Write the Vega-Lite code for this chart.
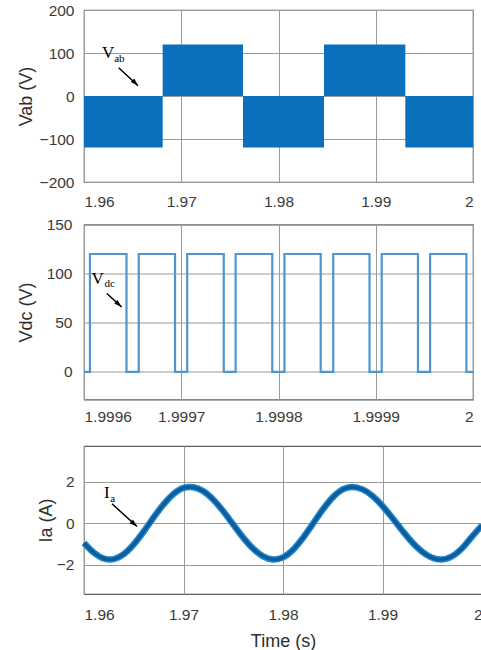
{
  "$schema": "https://vega.github.io/schema/vega-lite/v6.json",
  "background": "white",
  "padding": {"left": 16, "top": 2, "right": 0, "bottom": 0},
  "autosize": {"type": "pad"},
  "config": {
    "font": "Liberation Sans",
    "view": {"stroke": "#5e5e5e", "strokeWidth": 1.2},
    "axis": {
      "labelFont": "Liberation Sans", "titleFont": "Liberation Sans",
      "labelFontSize": 15.5, "titleFontSize": 18,
      "labelColor": "#3a3a3a", "titleColor": "#2e2e2e", "titleFontWeight": "normal",
      "ticks": false, "domain": false,
      "gridColor": "#9a9a9a", "gridOpacity": 1, "gridWidth": 1,
      "labelPadding": 10
    }
  },
  "datasets": {
    "vab": [
      {"t": 1.96, "t2": 1.96809, "v": -120},
      {"t": 1.96809, "t2": 1.97635, "v": 120},
      {"t": 1.97635, "t2": 1.98468, "v": -120},
      {"t": 1.98468, "t2": 1.99304, "v": 120},
      {"t": 1.99304, "t2": 2.0, "v": -120}
    ],
    "vdc": [
      {"t": 1.9996, "v": 0},
      {"t": 1.9996061, "v": 120}, {"t": 1.9996437, "v": 0},
      {"t": 1.9996563, "v": 120}, {"t": 1.9996936, "v": 0},
      {"t": 1.9997061, "v": 120}, {"t": 1.9997437, "v": 0},
      {"t": 1.9997559, "v": 120}, {"t": 1.9997936, "v": 0},
      {"t": 1.9998061, "v": 120}, {"t": 1.9998434, "v": 0},
      {"t": 1.9998563, "v": 120}, {"t": 1.9998936, "v": 0},
      {"t": 1.9999061, "v": 120}, {"t": 1.9999434, "v": 0},
      {"t": 1.9999559, "v": 120}, {"t": 1.9999932, "v": 0},
      {"t": 2.0, "v": 0}
    ],
    "ia": [
      {"t": 1.960, "v": -0.95}, {"t": 1.961, "v": -1.42}, {"t": 1.962, "v": -1.70},
      {"t": 1.962663, "v": -1.75}, {"t": 1.963, "v": -1.73}, {"t": 1.964, "v": -1.49},
      {"t": 1.965, "v": -1.02}, {"t": 1.966, "v": -0.40}, {"t": 1.967, "v": 0.28},
      {"t": 1.968, "v": 0.91}, {"t": 1.969, "v": 1.41}, {"t": 1.970, "v": 1.70},
      {"t": 1.970653, "v": 1.75}, {"t": 1.971, "v": 1.736}, {"t": 1.972, "v": 1.537},
      {"t": 1.973, "v": 1.131}, {"t": 1.974, "v": 0.573}, {"t": 1.975, "v": -0.065},
      {"t": 1.976, "v": -0.693}, {"t": 1.977, "v": -1.227}, {"t": 1.978, "v": -1.595},
      {"t": 1.979, "v": -1.748}, {"t": 1.979146, "v": -1.75}, {"t": 1.980, "v": -1.647},
      {"t": 1.981, "v": -1.283}, {"t": 1.982, "v": -0.713}, {"t": 1.983, "v": -0.029},
      {"t": 1.984, "v": 0.660}, {"t": 1.985, "v": 1.244}, {"t": 1.986, "v": 1.627},
      {"t": 1.986935, "v": 1.75}, {"t": 1.988, "v": 1.629}, {"t": 1.989, "v": 1.309},
      {"t": 1.990, "v": 0.830}, {"t": 1.991, "v": 0.249}, {"t": 1.992, "v": -0.361},
      {"t": 1.993, "v": -0.930}, {"t": 1.994, "v": -1.380}, {"t": 1.995, "v": -1.667},
      {"t": 1.995879, "v": -1.75}, {"t": 1.997, "v": -1.591}, {"t": 1.998, "v": -1.203},
      {"t": 1.999, "v": -0.641}, {"t": 2.000, "v": -0.10}
    ],
    "lab1": [{"t": 1.96185, "v": 88.4, "s": "V"}],
    "sub1": [{"t": 1.96310, "v": 79.8, "s": "ab"}],
    "arr1": [{"t": 1.963568, "v": 65.8, "t2": 1.965553, "v2": 24.0}],
    "lab2": [{"t": 1.9996078, "v": 89.9, "s": "V"}],
    "sub2": [{"t": 1.9996212, "v": 86.2, "s": "dc"}],
    "arr2": [{"t": 1.9996235, "v": 79.8, "t2": 1.9996387, "v2": 66.1}],
    "lab3": [{"t": 1.96201, "v": 1.224, "s": "I"}],
    "sub3": [{"t": 1.96265, "v": 1.012, "s": "a"}],
    "arr3": [{"t": 1.962814, "v": 0.935, "t2": 1.965327, "v2": -0.159}]
  },
  "spacing": 19,
  "vconcat": [
    {
      "spacing": 5.5,
      "vconcat": [
        {
          "width": 389, "height": 172,
          "layer": [
            {
              "data": {"name": "vab"},
              "mark": {"type": "rect", "color": "#0a6fbd"},
              "encoding": {
                "x": {"field": "t", "type": "quantitative", "scale": {"domain": [1.96, 2], "nice": false, "zero": false},
                      "axis": {"title": null, "values": [1.96, 1.97, 1.98, 1.99, 2], "format": "~g", "labelPadding": 12}},
                "x2": {"field": "t2"},
                "y": {"field": "v", "type": "quantitative", "scale": {"domain": [-200, 200], "nice": false},
                      "axis": {"title": "Vab (V)", "values": [-200, -100, 0, 100, 200], "titleX": -58, "titleBaseline": "middle"}},
                "y2": {"datum": 0}
              }
            },
            {
              "data": {"name": "lab1"},
              "mark": {"type": "text", "font": "Liberation Serif", "fontSize": 17, "align": "left", "baseline": "alphabetic", "color": "black"},
              "encoding": {"x": {"field": "t", "type": "quantitative"}, "y": {"field": "v", "type": "quantitative"}, "text": {"field": "s"}}
            },
            {
              "data": {"name": "sub1"},
              "mark": {"type": "text", "font": "Liberation Serif", "fontSize": 11, "align": "left", "baseline": "alphabetic", "color": "black"},
              "encoding": {"x": {"field": "t", "type": "quantitative"}, "y": {"field": "v", "type": "quantitative"}, "text": {"field": "s"}}
            },
            {
              "data": {"name": "arr1"},
              "mark": {"type": "rule", "color": "black", "strokeWidth": 1.5},
              "encoding": {"x": {"field": "t", "type": "quantitative"}, "y": {"field": "v", "type": "quantitative"}, "x2": {"field": "t2"}, "y2": {"field": "v2"}}
            },
            {
              "data": {"name": "arr1"},
              "mark": {"type": "point", "shape": "M0,0L0.7,2.2L-0.7,2.2Z", "filled": true, "color": "black", "opacity": 1, "size": 50, "angle": 135},
              "encoding": {"x": {"field": "t2", "type": "quantitative"}, "y": {"field": "v2", "type": "quantitative"}}
            }
          ]
        },
        {
          "width": 389, "height": 175,
          "layer": [
            {
              "data": {"name": "vdc"},
              "mark": {"type": "line", "color": "#4f95cf", "strokeWidth": 2.2, "interpolate": "step-after"},
              "encoding": {
                "x": {"field": "t", "type": "quantitative", "scale": {"domain": [1.9996, 2], "nice": false, "zero": false},
                      "axis": {"title": null, "values": [1.9996, 1.9997, 1.9998, 1.9999, 2], "format": "~g", "labelPadding": 10}},
                "y": {"field": "v", "type": "quantitative", "scale": {"domain": [-28, 150], "nice": false},
                      "axis": {"title": "Vdc (V)", "values": [0, 50, 100, 150], "titleX": -58, "titleBaseline": "middle", "labelPadding": 12}}
              }
            },
            {
              "data": {"name": "lab2"},
              "mark": {"type": "text", "font": "Liberation Serif", "fontSize": 17, "align": "left", "baseline": "alphabetic", "color": "black"},
              "encoding": {"x": {"field": "t", "type": "quantitative"}, "y": {"field": "v", "type": "quantitative"}, "text": {"field": "s"}}
            },
            {
              "data": {"name": "sub2"},
              "mark": {"type": "text", "font": "Liberation Serif", "fontSize": 11, "align": "left", "baseline": "alphabetic", "color": "black"},
              "encoding": {"x": {"field": "t", "type": "quantitative"}, "y": {"field": "v", "type": "quantitative"}, "text": {"field": "s"}}
            },
            {
              "data": {"name": "arr2"},
              "mark": {"type": "rule", "color": "black", "strokeWidth": 1.5},
              "encoding": {"x": {"field": "t", "type": "quantitative"}, "y": {"field": "v", "type": "quantitative"}, "x2": {"field": "t2"}, "y2": {"field": "v2"}}
            },
            {
              "data": {"name": "arr2"},
              "mark": {"type": "point", "shape": "M0,0L0.7,2.2L-0.7,2.2Z", "filled": true, "color": "black", "opacity": 1, "size": 50, "angle": 132},
              "encoding": {"x": {"field": "t2", "type": "quantitative"}, "y": {"field": "v2", "type": "quantitative"}}
            }
          ]
        }
      ]
    },
    {
      "width": 398, "height": 148,
      "layer": [
        {
          "data": {"name": "ia"},
          "mark": {"type": "line", "color": "#1d86cf", "strokeWidth": 6.5, "interpolate": "monotone"},
          "encoding": {
            "x": {"field": "t", "type": "quantitative", "scale": {"domain": [1.96, 2], "nice": false, "zero": false},
                  "axis": {"title": "Time (s)", "values": [1.96, 1.97, 1.98, 1.99, 2], "format": "~g", "labelPadding": 13, "titlePadding": 10}},
            "y": {"field": "v", "type": "quantitative", "scale": {"domain": [-3.41, 3.72], "nice": false},
                  "axis": {"title": "Ia (A)", "values": [-2, 0, 2], "titleX": -38, "titleBaseline": "middle"}}
          }
        },
        {
          "data": {"name": "ia"},
          "mark": {"type": "line", "color": "#0c5c9a", "strokeWidth": 3.5, "interpolate": "monotone"},
          "encoding": {"x": {"field": "t", "type": "quantitative"}, "y": {"field": "v", "type": "quantitative"}}
        },
        {
          "data": {"name": "lab3"},
          "mark": {"type": "text", "font": "Liberation Serif", "fontSize": 17, "align": "left", "baseline": "alphabetic", "color": "black"},
          "encoding": {"x": {"field": "t", "type": "quantitative"}, "y": {"field": "v", "type": "quantitative"}, "text": {"field": "s"}}
        },
        {
          "data": {"name": "sub3"},
          "mark": {"type": "text", "font": "Liberation Serif", "fontSize": 11, "align": "left", "baseline": "alphabetic", "color": "black"},
          "encoding": {"x": {"field": "t", "type": "quantitative"}, "y": {"field": "v", "type": "quantitative"}, "text": {"field": "s"}}
        },
        {
          "data": {"name": "arr3"},
          "mark": {"type": "rule", "color": "black", "strokeWidth": 1.5},
          "encoding": {"x": {"field": "t", "type": "quantitative"}, "y": {"field": "v", "type": "quantitative"}, "x2": {"field": "t2"}, "y2": {"field": "v2"}}
        },
        {
          "data": {"name": "arr3"},
          "mark": {"type": "point", "shape": "M0,0L0.7,2.2L-0.7,2.2Z", "filled": true, "color": "black", "opacity": 1, "size": 50, "angle": 132},
          "encoding": {"x": {"field": "t2", "type": "quantitative"}, "y": {"field": "v2", "type": "quantitative"}}
        }
      ]
    }
  ]
}
